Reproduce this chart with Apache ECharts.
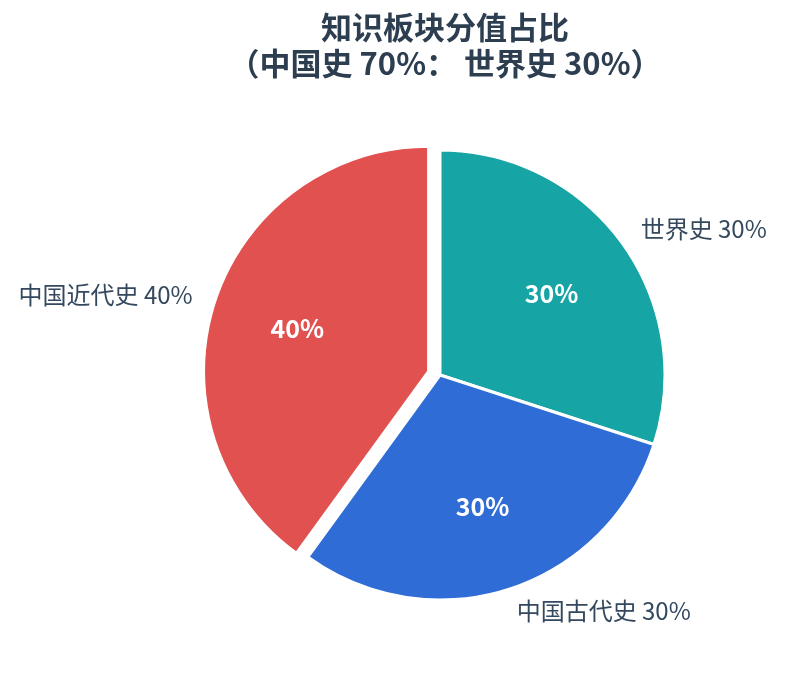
<!DOCTYPE html>
<html>
<head>
<meta charset="utf-8">
<script src="https://cdn.jsdelivr.net/npm/echarts@6/dist/echarts.min.js"></script>
<style>
html, body { margin: 0; padding: 0; background: #fff; }
#main { width: 786px; height: 674px; }
</style>
</head>
<body>
<div id="main"></div>
<script>
// 数据
let names = ['世界史', '中国古代史', '中国近代史'];
let values = [30, 30, 40];
let colors = ['#17a4a4', '#2f6cd6', '#e05150'];
let selected_idx = 2; // 中国近代史 偏移

let chart = echarts.init(document.getElementById('main'));
let font = 'Noto Sans CJK SC';

// 组装数据
let build = (sel) => names.map((n, i) => ({
	name: n,
	value: values[i],
	selected: sel && i === selected_idx,
	itemStyle: { color: colors[i] },
}));

let option = {
	title: {
		text: '知识板块分值占比\n（中国史 70%： 世界史 30%）',
		left: 440,
		textAlign: 'center',
		top: 4,
		textStyle: {
			fontFamily: font,
			fontSize: 31,
			fontWeight: 'bold',
			color: '#2c3e50',
			lineHeight: 36,
		},
	},
	series: [
		{
			type: 'pie',
			center: [440, 375],
			radius: [0, 225],
			startAngle: 90,
			selectedMode: 'single',
			selectedOffset: 12,
			itemStyle: { borderColor: '#fff', borderWidth: 3 },
			label: {
				show: true,
				position: 'outside',
				formatter: '{b} {c}%',
				fontFamily: font,
				fontSize: 24,
				color: '#34495e',
				distanceToLabelLine: 0,
			},
			labelLine: { show: false, length: 23, length2: 0 },
			data: build(true),
		},
		{
			// 内部百分比标签
			type: 'pie',
			center: [440, 375],
			radius: [0, 270],
			startAngle: 90,
			silent: true,
			selectedMode: 'single',
			selectedOffset: 12,
			itemStyle: { color: 'rgba(0,0,0,0)', borderWidth: 0 },
			label: {
				show: true,
				position: 'inside',
				formatter: '{c}%',
				fontFamily: font,
				fontSize: 25,
				fontWeight: 'bold',
				color: '#fff',
			},
			labelLine: { show: false },
			data: build(true).map((d) => ({ name: d.name, value: d.value, selected: d.selected })),
		},
	],
};
chart.setOption(option);
</script>
</body>
</html>
